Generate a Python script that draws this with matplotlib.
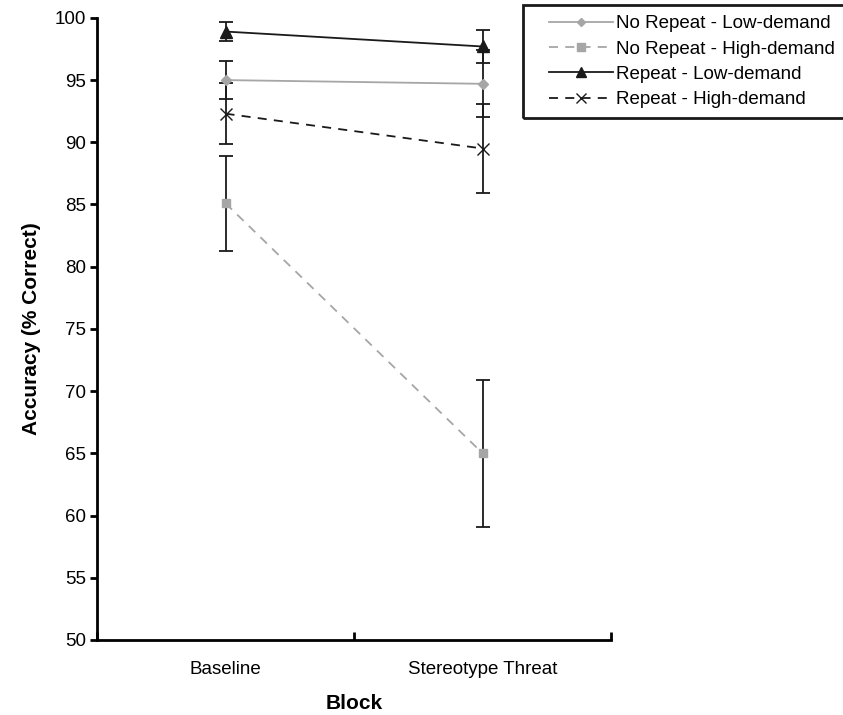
import numpy as np
from matplotlib import pyplot as plt
from matplotlib.patches import Rectangle

plt.rcParams['font.family'] = ['Liberation Sans', 'DejaVu Sans']

blocks = ['Baseline', 'Stereotype Threat']
series = ['No Repeat - Low-demand', 'No Repeat - High-demand',
          'Repeat - Low-demand', 'Repeat - High-demand']
means = [
    [95.0, 94.7],
    [85.1, 65.0],
    [98.9, 97.7],
    [92.3, 89.5],
]
errors = [
    [1.5, 2.7],
    [3.8, 5.9],
    [0.75, 1.3],
    [2.45, 3.6],
]

styles = [
    dict(color='#a6a6a6', ls='-', marker='D', ms=5, mfc='#a6a6a6', mec='#a6a6a6'),
    dict(color='#a6a6a6', ls=(0, (5, 4)), marker='s', ms=6, mfc='#a6a6a6', mec='#a6a6a6'),
    dict(color='#1a1a1a', ls='-', marker='^', ms=8, mfc='#1a1a1a', mec='#1a1a1a'),
    dict(color='#1a1a1a', ls=(0, (5, 4)), marker='x', ms=8, mfc='#1a1a1a', mec='#1a1a1a'),
]

W, H = 843, 715
fig = plt.figure(figsize=(W / 100, H / 100), dpi=100)
ax = fig.add_axes([0.115, 0.105, 0.61, 0.87])

x = np.arange(len(blocks)) + 0.5
handles = []
for name, m, e, st in zip(series, means, errors, styles):
    ax.errorbar(x, m, yerr=e, fmt='none', ecolor='#1a1a1a', elinewidth=1.3,
                capsize=5, capthick=1.3, zorder=2)
    h, = ax.plot(x, m, lw=1.3, label=name, zorder=3, **st)
    handles.append(h)

ax.set_xlim(0, 2)
ax.set_ylim(50, 100)
ax.set_yticks(np.arange(50, 101, 5))
ax.set_xticks([0, 1, 2])
ax.set_xticklabels([])
ax.set_xticks(x, minor=True)
ax.set_xticklabels(blocks, minor=True)
ax.tick_params(axis='x', which='minor', length=0, pad=15, labelsize=13.5)
ax.tick_params(axis='x', which='major', length=6, width=2, direction='in')
ax.tick_params(axis='y', length=5, width=2, direction='out', labelsize=13.5, pad=3)
for s in ['top', 'right']:
    ax.spines[s].set_visible(False)
for s in ['left', 'bottom']:
    ax.spines[s].set_linewidth(2)

ax.set_ylabel('Accuracy (% Correct)', fontsize=15, fontweight='bold', labelpad=10)
ax.set_xlabel('Block', fontsize=15, fontweight='bold', labelpad=12)

# legend without its own frame; box drawn separately (runs off the right edge)
leg = fig.legend(handles=handles, loc='upper left',
                 bbox_to_anchor=(549 / W, 1 - 15 / H),
                 frameon=False, fontsize=13.5, handlelength=3.4,
                 handletextpad=0.15, labelspacing=0.44, borderpad=0,
                 borderaxespad=0, markerscale=0.85)
fig.patches.append(Rectangle((523 / W, 1 - 118 / H), 330 / W, 113 / H,
                             transform=fig.transFigure, fill=False,
                             edgecolor='#1a1a1a', linewidth=2))

fig.savefig('out.png', dpi=100)
